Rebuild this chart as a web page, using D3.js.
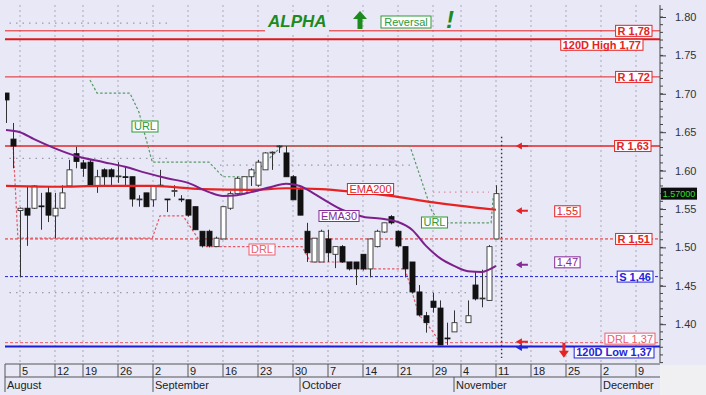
<!DOCTYPE html>
<html>
<head>
<meta charset="utf-8">
<script src="https://cdn.jsdelivr.net/npm/d3@7"></script>
<style>
  body { margin: 0; background: #fff; }
  svg { display: block; font-family: "Liberation Sans", Arial, sans-serif; }
</style>
</head>
<body>
<div id="chart"></div>
<script>
// Daily candles, one per trading day (index 0 = 1 Aug). Index 65 has no bar.
const opens  = [1.701,1.641,1.548,1.551,1.551,1.554,1.571,1.541,1.551,1.580,1.622,1.610,1.611,1.580,1.601,1.601,1.592,1.592,1.592,1.562,1.571,1.562,1.581,1.563,1.573,1.563,1.562,1.553,1.521,1.521,1.501,1.511,1.551,1.570,1.570,1.592,1.581,1.601,1.623,1.632,1.623,1.592,1.575,1.521,1.481,1.481,1.511,1.491,1.501,1.481,1.481,1.491,1.472,1.501,1.520,1.540,1.521,1.501,1.481,1.442,1.411,1.430,1.421,1.382,1.390,null,1.402,1.451,1.434,1.431,1.511];
const highs  = [1.701,1.662,1.552,1.579,1.581,1.571,1.579,1.571,1.581,1.614,1.631,1.614,1.614,1.601,1.603,1.603,1.611,1.605,1.592,1.568,1.571,1.581,1.601,1.563,1.581,1.568,1.562,1.553,1.521,1.523,1.514,1.553,1.573,1.592,1.592,1.603,1.614,1.624,1.625,1.633,1.632,1.594,1.578,1.532,1.512,1.523,1.523,1.501,1.503,1.481,1.481,1.491,1.511,1.523,1.532,1.542,1.522,1.501,1.481,1.451,1.416,1.441,1.431,1.402,1.418,null,1.431,1.468,1.471,1.503,1.581];
const lows   = [1.662,1.603,1.461,1.502,1.550,1.523,1.533,1.512,1.550,1.579,1.603,1.592,1.581,1.571,1.581,1.581,1.584,1.581,1.553,1.553,1.553,1.553,1.580,1.546,1.566,1.559,1.540,1.523,1.500,1.500,1.501,1.511,1.549,1.569,1.569,1.580,1.579,1.601,1.601,1.623,1.592,1.562,1.542,1.481,1.481,1.481,1.481,1.473,1.480,1.470,1.451,1.470,1.461,1.500,1.519,1.530,1.500,1.461,1.440,1.410,1.389,1.415,1.373,1.373,1.390,null,1.402,1.431,1.422,1.431,1.511];
const closes = [1.692,1.632,1.551,1.542,1.580,1.553,1.542,1.551,1.571,1.601,1.612,1.603,1.581,1.592,1.592,1.592,1.593,1.591,1.563,1.563,1.553,1.580,1.580,1.562,1.574,1.562,1.542,1.523,1.502,1.502,1.512,1.553,1.570,1.590,1.592,1.601,1.611,1.623,1.624,1.632,1.592,1.562,1.542,1.493,1.512,1.521,1.493,1.501,1.481,1.472,1.472,1.472,1.511,1.521,1.532,1.532,1.502,1.472,1.442,1.412,1.402,1.422,1.373,1.381,1.402,null,1.411,1.433,1.434,1.501,1.570];

// Moving averages read at a set of day indices
const ema200Idx = [0, 7, 14, 21, 28, 35, 40, 45, 50, 55, 60, 65, 70];
const ema200Val = [1.580,1.579,1.580,1.580,1.576,1.575,1.577,1.576,1.572,1.567,1.560,1.554,1.549];
const ema30Idx  = [0, 2, 4, 7, 10, 14, 17, 20, 23, 26, 29, 31, 33, 35, 38, 40, 42, 44, 46, 48, 51, 54, 56, 58, 60, 62, 64, 66, 68, 69, 70];
const ema30Val  = [1.653,1.650,1.641,1.629,1.619,1.611,1.605,1.597,1.590,1.584,1.572,1.567,1.568,1.572,1.579,1.583,1.580,1.570,1.559,1.549,1.540,1.537,1.533,1.523,1.502,1.486,1.476,1.469,1.468,1.471,1.476];

// Trailing lines
const urlIdx = [12, 13, 17.7, 19, 19.6, 20.9, 29, 31, 35, 39.4, 57.7, 60.8, 62, 69.3, 69.6, 70];
const urlVal = [1.718,1.701,1.701,1.676,1.655,1.611,1.611,1.592,1.592,1.632,1.632,1.548,1.532,1.532,1.566,1.568];
const drlIdx = [1, 1.7, 20.9, 22, 25.3, 27.7, 28.5, 42.3, 43.5, 49.5, 50.5, 57, 58, 59, 60, 61, 62];
const drlVal = [1.636,1.512,1.512,1.541,1.541,1.508,1.501,1.501,1.481,1.481,1.472,1.472,1.442,1.412,1.402,1.390,1.376];

// Dotted reference lines (value, first and last day index)
const refVals  = [1.792, 1.616, 1.607, 1.441];
const refStart = [0, 0, 31, 0];
const refEnd   = [23, 23, 58, 66];
const pinkRefVal = 1.572, pinkRefStart = 61, pinkRefEnd = 69;

// Horizontal levels
const r178 = 1.782, high120 = 1.771, r172 = 1.722, r163 = 1.632, r151 = 1.511;
const s146 = 1.462, drl137 = 1.376, low120 = 1.371;
const ema200Last = 1.549, ema30Last = 1.476, lastPrice = 1.57;

// Axis labels
const dayTickIdx    = [2, 7, 11, 16, 21, 26, 31, 36, 41, 46, 51, 56, 61, 65, 70, 75, 80, 85, 90];
const dayTickLabels = ["5","12","19","26","2","9","16","23","30","7","14","21","29","4","11","18","25","2","9"];
const monthIdx    = [21, 42, 64, 85];
const monthLabels = ["September", "October", "November", "December"];
const firstMonth  = "August";
const priceTicks  = [1.40, 1.45, 1.50, 1.55, 1.60, 1.65, 1.70, 1.75, 1.80];
const todayIdx = 70.8, arrowIdx = 73.7, downArrowIdx = 79.7, emaTagIdx = 80.2;

const W = 706, H = 395;
const pL = 5, pR = 660, pT = 5, pB = 364;

const RED = "#e42424", PINK = "#ef5e6a", BLUE = "#2424d8", PURPLE = "#862a96", GREEN = "#2f9a35";

const svg = d3.select("#chart").append("svg").attr("width", W).attr("height", H);
svg.append("rect").attr("width", W).attr("height", H).attr("fill", "#e8e8f7");
svg.append("rect").attr("x", pR).attr("y", pB + 1).attr("width", W - pR).attr("height", H - pB)
  .attr("fill", "#f0f0f2");

const x = d3.scaleLinear().domain([-1 / 7, (pR - 6) / 7]).range([pL, pR]);
const y = d3.scaleLinear().domain([1.40, 1.80]).range([324.2, 17]);

svg.append("clipPath").attr("id", "plot")
  .append("rect").attr("x", pL).attr("y", pT).attr("width", pR - pL).attr("height", pB - pT);
const g = svg.append("g").attr("clip-path", "url(#plot)");

// Weekly vertical grid
g.selectAll(".vgrid").data(dayTickIdx).enter().append("line")
  .attr("x1", d => x(d)).attr("x2", d => x(d)).attr("y1", pT).attr("y2", pB)
  .attr("stroke", "#a9a9bd").attr("stroke-dasharray", "2,3");

// Dotted references
g.selectAll(".ref").data(refVals).enter().append("line")
  .attr("x1", (d, i) => x(refStart[i]) - 3).attr("x2", (d, i) => x(refEnd[i]) + 3)
  .attr("y1", d => y(d)).attr("y2", d => y(d))
  .attr("stroke", "#9a9aa8").attr("stroke-width", 1.2).attr("stroke-dasharray", "1.5,5");
g.append("line").attr("x1", x(pinkRefStart)).attr("x2", x(pinkRefEnd))
  .attr("y1", y(pinkRefVal)).attr("y2", y(pinkRefVal))
  .attr("stroke", "#e08aa0").attr("stroke-width", 1.2).attr("stroke-dasharray", "1.5,4");

// Levels
function level(v, color, width, dash) {
  g.append("line").attr("x1", pL).attr("x2", pR).attr("y1", y(v)).attr("y2", y(v))
    .attr("stroke", color).attr("stroke-width", width).attr("stroke-dasharray", dash || null);
}
level(r178, RED, 1);
level(high120, "#e01818", 2.2);
level(r172, RED, 1);
level(r163, RED, 1.3);
level(r151, RED, 1, "3,2");
level(s146, BLUE, 1, "3,2");
level(drl137, PINK, 1, "3,2");
level(low120, "#1c1cd0", 2);

// Trailing lines
const line = d3.line().x(d => x(d[0])).y(d => y(d[1]));
g.append("path").datum(urlIdx.map((d, i) => [d, urlVal[i]]))
  .attr("d", line).attr("fill", "none").attr("stroke", "#5a9a66").attr("stroke-width", 1.2)
  .attr("stroke-dasharray", "2.5,2");
g.append("path").datum(drlIdx.map((d, i) => [d, drlVal[i]]))
  .attr("d", line).attr("fill", "none").attr("stroke", "#e25a66").attr("stroke-width", 1.2)
  .attr("stroke-dasharray", "2.5,2");

// Candles
const candles = opens.map((o, i) => ({ i, o, h: highs[i], l: lows[i], c: closes[i] })).filter(d => d.o !== null);
const cg = g.append("g");
cg.selectAll(".wick").data(candles).enter().append("line")
  .attr("x1", d => x(d.i) + 0.5).attr("x2", d => x(d.i) + 0.5)
  .attr("y1", d => y(d.h)).attr("y2", d => y(d.l))
  .attr("stroke", "#333").attr("stroke-width", 1);
cg.selectAll(".body").data(candles).enter().append("rect")
  .attr("x", d => x(d.i) - 2)
  .attr("y", d => y(Math.max(d.o, d.c)))
  .attr("width", 5)
  .attr("height", d => Math.max(0.8, Math.abs(y(d.o) - y(d.c))))
  .attr("fill", d => d.c >= d.o ? "#fff" : "#111")
  .attr("stroke", d => d.c >= d.o ? "#333" : "#111")
  .attr("stroke-width", 0.9);

// EMAs
const smooth = d3.line().x(d => x(d[0])).y(d => y(d[1])).curve(d3.curveMonotoneX);
g.append("path").datum(ema200Idx.map((d, i) => [d, ema200Val[i]]))
  .attr("d", smooth).attr("fill", "none").attr("stroke", "#e62222").attr("stroke-width", 2.2);
g.append("path").datum(ema30Idx.map((d, i) => [d, ema30Val[i]]))
  .attr("d", smooth).attr("fill", "none").attr("stroke", "#7e1f8e").attr("stroke-width", 2);

// Today marker
g.append("line").attr("x1", x(todayIdx)).attr("x2", x(todayIdx))
  .attr("y1", y(1.644)).attr("y2", y(1.356))
  .attr("stroke", "#333").attr("stroke-width", 1.4).attr("stroke-dasharray", "1.5,2.5");

// Boxed tags
function tag(text, xPos, yc, color, anchor, bold, size) {
  const t = svg.append("g");
  const txt = t.append("text").attr("font-size", size || 11).attr("font-weight", bold ? "bold" : "normal")
    .attr("fill", color).attr("dy", "0.36em").text(text);
  const w = txt.node().getComputedTextLength();
  const bw = w + 4, bh = 11;
  const lx = anchor === "end" ? xPos - bw : anchor === "middle" ? xPos - bw / 2 : xPos;
  t.insert("rect", "text").attr("x", lx).attr("y", yc - bh / 2).attr("width", bw).attr("height", bh)
    .attr("fill", "#fdfdff").attr("stroke", color).attr("stroke-width", 1);
  txt.attr("x", lx + 2).attr("y", yc);
}
tag("R 1,78", 652, y(r178), RED, "end", true);
tag("120D High 1,77", 643, y(high120) + 5.5, RED, "end", true);
tag("R 1,72", 652, y(r172), RED, "end", true);
tag("R 1,63", 651, y(r163), RED, "end", true);
tag("R 1,51", 652, y(r151), RED, "end", true);
tag("S 1,46", 653, y(s146), BLUE, "end", true);
tag("DRL 1,37", 655, y(drl137) - 4, PINK, "end", false);
tag("120D Low 1,37", 654, y(low120) + 6, BLUE, "end", true);
tag("1.55", x(emaTagIdx), y(ema200Last) + 1.5, RED, "middle", false);
tag("1,47", x(emaTagIdx), y(ema30Last) - 3.5, PURPLE, "middle", false);
tag("EMA200", 370.5, 189, RED, "middle", false);
tag("EMA30", 339, 216, PURPLE, "middle", false);
tag("URL", 145, 126.5, GREEN, "middle", false);
tag("URL", 434.5, 222.5, GREEN, "middle", false);
tag("DRL", 262, 249.5, PINK, "middle", false);

// Side arrows
function leftArrow(yc, color) {
  const ax = x(arrowIdx) - 6;
  svg.append("path")
    .attr("d", `M${ax},${yc} l6,-3.5 v2.5 h6 v2 h-6 v2.5 z`)
    .attr("fill", color);
}
leftArrow(y(r163), RED);
leftArrow(y(ema200Last) + 1, RED);
leftArrow(y(ema30Last) - 1, PURPLE);
leftArrow(y(drl137) - 1, RED);
leftArrow(y(low120) + 1, BLUE);
{
  const ax = x(downArrowIdx), yt = y(drl137);
  svg.append("path")
    .attr("d", `M${ax - 1.5},${yt} h3 v8 h3.5 l-5,7 l-5,-7 h3.5 z`)
    .attr("fill", RED);
}

// Right price axis
const axisG = svg.append("g").attr("transform", `translate(${pR},0)`);
axisG.append("line").attr("x1", 0).attr("x2", 0).attr("y1", pT).attr("y2", pB - 1)
  .attr("stroke", "#444");
const minor = d3.range(135, 182).map(d => d / 100).filter(v => y(v) > pT && y(v) < pB);
axisG.selectAll(".minor").data(minor).enter().append("line")
  .attr("x1", 0).attr("x2", 3).attr("y1", d => y(d)).attr("y2", d => y(d)).attr("stroke", "#444");
const yAxis = d3.axisRight(y).tickValues(priceTicks).tickFormat(d3.format(".2f")).tickSize(6).tickPadding(9);
axisG.call(yAxis);
axisG.select(".domain").remove();
axisG.selectAll(".tick line").attr("stroke", "#444");
axisG.selectAll(".tick text").attr("font-size", 11).attr("fill", "#333")
  .attr("font-family", "'Liberation Sans', Arial, sans-serif");

// Last price marker
svg.append("rect").attr("x", pR + 1).attr("y", y(lastPrice) - 6).attr("width", 36).attr("height", 12).attr("fill", "#0c0c0c");
svg.append("text").attr("x", pR + 19).attr("y", y(lastPrice)).attr("dy", "0.35em")
  .attr("text-anchor", "middle").attr("font-size", 9).attr("fill", "#2ee02e").text(d3.format(".5f")(lastPrice));

// Date axis rows
const dayTop = pB, dayBot = 377, monBot = 392;
svg.append("line").attr("x1", pL).attr("x2", pR).attr("y1", dayTop).attr("y2", dayTop).attr("stroke", "#555");
svg.append("line").attr("x1", pL).attr("x2", pR).attr("y1", dayBot).attr("y2", dayBot).attr("stroke", "#555");
svg.append("line").attr("x1", pL).attr("x2", pL).attr("y1", dayTop).attr("y2", monBot).attr("stroke", "#555");
svg.selectAll(".dsep").data(dayTickIdx).enter().append("line")
  .attr("x1", d => x(d)).attr("x2", d => x(d)).attr("y1", dayTop).attr("y2", dayBot).attr("stroke", "#555");
svg.selectAll(".dlab").data(dayTickIdx).enter().append("text")
  .attr("x", d => x(d) + 2).attr("y", dayBot - 2.5)
  .attr("font-size", 11).attr("fill", "#222").text((d, i) => dayTickLabels[i]);
svg.selectAll(".msep").data(monthIdx).enter().append("line")
  .attr("x1", d => x(d)).attr("x2", d => x(d)).attr("y1", dayBot).attr("y2", monBot).attr("stroke", "#555");
svg.selectAll(".mlab").data(monthIdx).enter().append("text")
  .attr("x", d => x(d) + 2).attr("y", monBot - 3)
  .attr("font-size", 11).attr("fill", "#222").text((d, i) => monthLabels[i]);
svg.append("text").attr("x", pL + 2).attr("y", monBot - 3).attr("font-size", 11).attr("fill", "#222").text(firstMonth);

// Title block
const tg = svg.append("g");
tg.append("rect").attr("x", 265).attr("y", 12).attr("width", 64).attr("height", 22).attr("fill", "#e8e8f7");
tg.append("text").attr("x", 268).attr("y", 27).attr("font-size", 17).attr("font-weight", "bold")
  .attr("font-style", "italic").attr("fill", "#1c8a1c").text("ALPHA");
tg.append("path").attr("d", "M360,11 l7,8 h-4.5 v10 h-5 v-10 h-4.5 z").attr("fill", "#1c8a1c");
tg.append("rect").attr("x", 381).attr("y", 16).attr("width", 50).attr("height", 12)
  .attr("fill", "#fdfdff").attr("stroke", GREEN);
tg.append("text").attr("x", 406).attr("y", 22).attr("dy", "0.36em").attr("text-anchor", "middle")
  .attr("font-size", 11).attr("fill", GREEN).text("Reversal");
tg.append("text").attr("x", 446).attr("y", 28).attr("font-size", 24).attr("font-weight", "bold")
  .attr("font-style", "italic").attr("fill", "#1c8a1c").text("!");
</script>
</body>
</html>
